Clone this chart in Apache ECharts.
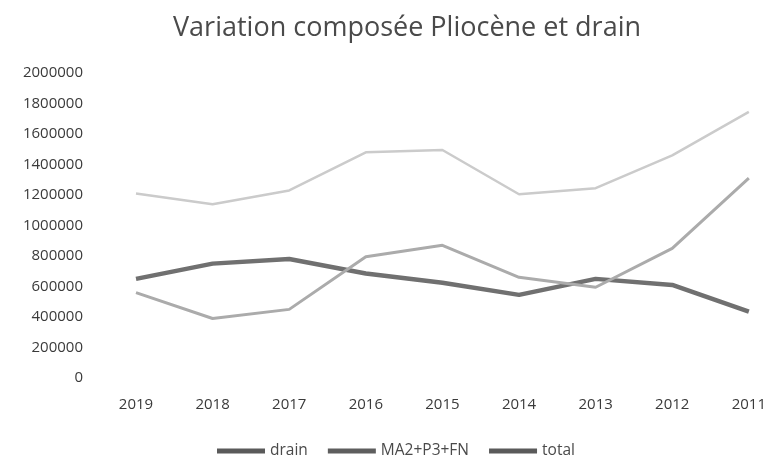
<!DOCTYPE html>
<html><head><meta charset="utf-8">
<script src="https://cdn.jsdelivr.net/npm/echarts@6/dist/echarts.min.js"></script>
<style>html,body{margin:0;padding:0;background:#fff}#c{width:769px;height:457px}</style>
</head><body><div id="c"></div>
<script>
const years = ['2019','2018','2017','2016','2015','2014','2013','2012','2011'];
const drain = [650000, 750000, 780000, 685000, 625000, 545000, 650000, 610000, 435000];
const ma2p3fn = [560000, 390000, 450000, 795000, 870000, 660000, 595000, 850000, 1310000];
const total = [1210000, 1140000, 1230000, 1480000, 1495000, 1205000, 1245000, 1460000, 1745000];
const yTicks = {min: 0, max: 2000000, interval: 200000};

const chart = echarts.init(document.getElementById('c'));
const font = '"Open Sans", Lato, sans-serif';
chart.setOption({
  animation: false,
  backgroundColor: '#ffffff',
  title: {
    text: 'Variation composée Pliocène et drain',
    left: 168, top: 10,
    textStyle: {fontFamily: font, fontSize: 27, fontWeight: 'normal', color: '#4a4a4a'}
  },
  legend: {
    top: 438, left: 212, itemWidth: 48, itemHeight: 5, itemGap: 20,
    icon: 'rect',
    textStyle: {fontFamily: font, fontSize: 15.5, color: '#4a4a4a'},
    data: [
      {name: 'drain', itemStyle: {color: '#5a5a5a'}},
      {name: 'MA2+P3+FN', itemStyle: {color: '#5e5e5e'}},
      {name: 'total', itemStyle: {color: '#5a5a5a'}}
    ]
  },
  grid: {left: 136, right: 19, top: 73, bottom: 79},
  xAxis: {
    type: 'category', data: years, boundaryGap: false,
    axisLine: {show: false}, axisTick: {show: false},
    axisLabel: {fontFamily: font, fontSize: 15, color: '#3a3a3a', margin: 19}
  },
  yAxis: {
    type: 'value', min: yTicks.min, max: yTicks.max, interval: yTicks.interval,
    splitLine: {show: false}, axisLine: {show: false}, axisTick: {show: false},
    axisLabel: {fontFamily: font, fontSize: 15, color: '#3a3a3a', margin: 53,
      formatter: v => String(v)}
  },
  series: [
    {name: 'drain', type: 'line', data: drain, symbol: 'none',
     lineStyle: {width: 4.5, color: '#707070'}, itemStyle: {color: '#707070'}},
    {name: 'MA2+P3+FN', type: 'line', data: ma2p3fn, symbol: 'none',
     lineStyle: {width: 3, color: '#ababab'}, itemStyle: {color: '#ababab'}},
    {name: 'total', type: 'line', data: total, symbol: 'none',
     lineStyle: {width: 2.5, color: '#cbcbcb'}, itemStyle: {color: '#cbcbcb'}}
  ]
});
</script></body></html>
